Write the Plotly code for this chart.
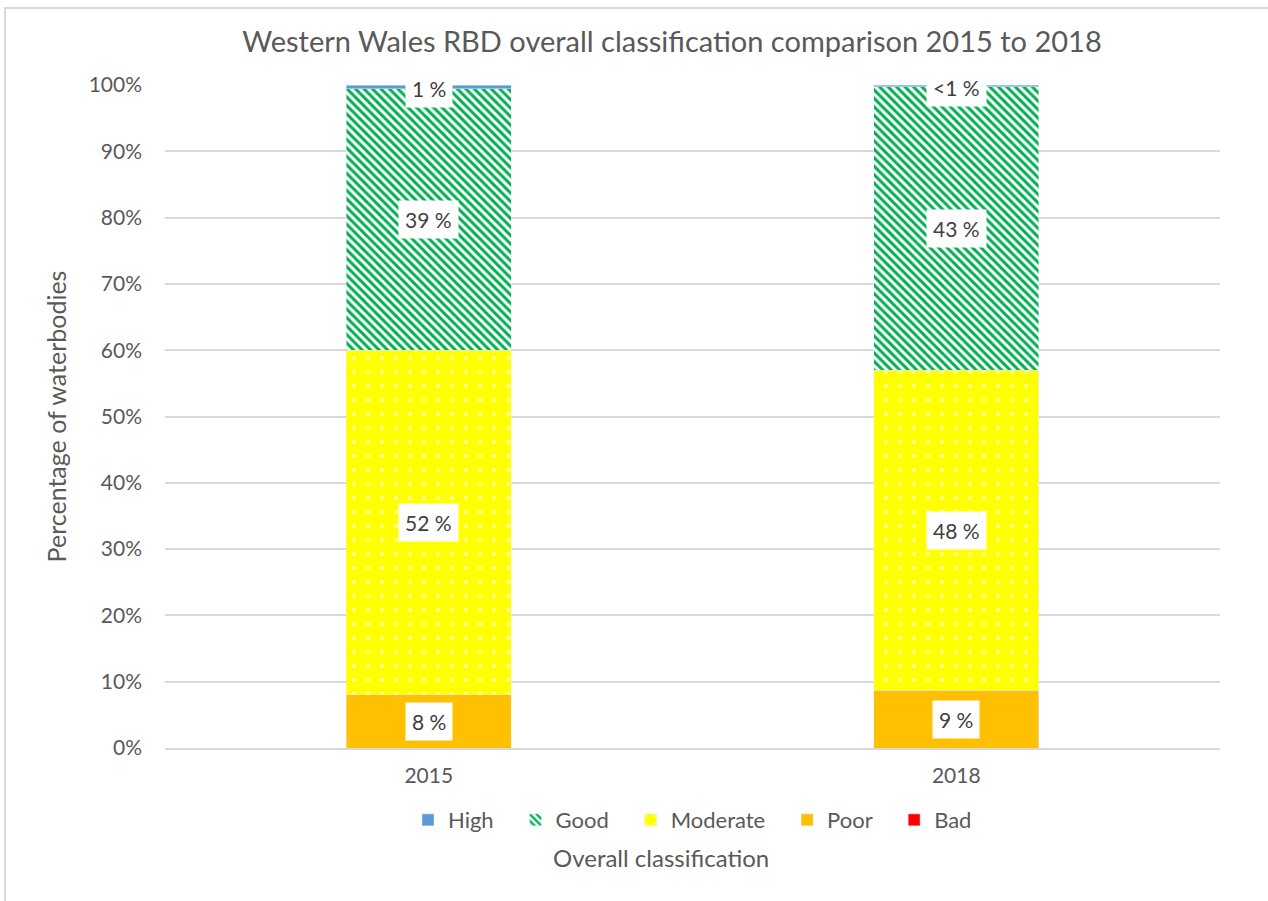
import plotly.graph_objects as go

years = ["2015", "2018"]
classes = ["High", "Good", "Moderate", "Poor", "Bad"]
high = [0.6, 0.3]
good = [39.4, 42.7]
moderate = [52.0, 48.3]
poor = [8.0, 8.7]
bad = [0.0, 0.0]
labels = {
    "High": ["1 %", "<1 %"],
    "Good": ["39 %", "43 %"],
    "Moderate": ["52 %", "48 %"],
    "Poor": ["8 %", "9 %"],
}

FONT = "Lato, 'Open Sans', sans-serif"
GREY = "#595959"
PAD = "\u00a0" * 3

series = {"Bad": bad, "Poor": poor, "Moderate": moderate, "Good": good, "High": high}

fig = go.Figure()
fig.add_trace(go.Bar(x=years, y=bad, name="Bad", marker=dict(color="#FF0000"), legendrank=5))
fig.add_trace(go.Bar(x=years, y=poor, name="Poor" + PAD, marker=dict(color="#FFC000"), legendrank=4))
fig.add_trace(go.Bar(x=years, y=moderate, name="Moderate" + PAD,
                     marker=dict(color="#FFFF00",
                                 pattern=dict(shape=".", fgcolor="white", bgcolor="#FFFF00",
                                              size=14, solidity=0.08, fillmode="overlay")),
                     legendrank=3))
fig.add_trace(go.Bar(x=years, y=good, name="Good" + PAD,
                     marker=dict(color="white",
                                 pattern=dict(shape="\\", fgcolor="#00B050", bgcolor="white",
                                              size=6, solidity=0.5, fillmode="replace")),
                     legendrank=2))
fig.add_trace(go.Bar(x=years, y=high, name="High" + PAD, marker=dict(color="#5B9BD5"), legendrank=1))

order = ["Bad", "Poor", "Moderate", "Good", "High"]
for i, yr in enumerate(years):
    base = 0.0
    for name in order:
        v = series[name][i]
        if name in labels:
            mid = base + v / 2
            if name == "High":
                mid = base + v / 2 - 0.3
            fig.add_annotation(x=i, xref="x", y=mid, yref="y", text=labels[name][i],
                               showarrow=False, bgcolor="white", borderpad=6,
                               font=dict(family=FONT, size=21, color="#404040"))
        base += v

fig.update_layout(
    barmode="stack",
    bargap=0.687,
    width=1268, height=901,
    margin=dict(l=165, r=48, t=85, b=153, autoexpand=False),
    paper_bgcolor="white", plot_bgcolor="white",
    font=dict(family=FONT, color=GREY, size=20),
    title=dict(text="Western Wales RBD overall classification comparison 2015 to 2018",
               x=0.53, xanchor="center", y=0.953, yanchor="middle",
               font=dict(family=FONT, size=29, color=GREY)),
    legend=dict(orientation="h", x=0.5, xanchor="center", y=-0.077, yanchor="top",
                font=dict(family=FONT, size=22, color=GREY), traceorder="normal",
                itemwidth=30),
    showlegend=True,
)
fig.update_yaxes(range=[0, 100], dtick=10, ticksuffix="%", showgrid=True,
                 gridcolor="#D9D9D9", gridwidth=1.5, zeroline=False,
                 showline=False, ticks="", ticklabelstandoff=22, automargin=False,
                 tickfont=dict(family=FONT, size=21, color=GREY),
                 title=dict(text="Percentage of waterbodies", standoff=14,
                            font=dict(family=FONT, size=25, color=GREY)))
fig.update_xaxes(type="category", range=[-0.5, 1.5], showline=True, linecolor="#D9D9D9",
                 linewidth=1.5, ticks="", automargin=False, ticklabelstandoff=8,
                 tickfont=dict(family=FONT, size=21, color=GREY))

fig.add_annotation(text="Overall classification", xref="paper", yref="paper",
                   x=0.47, y=-0.165, showarrow=False, xanchor="center", yanchor="middle",
                   font=dict(family=FONT, size=24, color=GREY))

fig.add_shape(type="rect", xref="paper", yref="paper",
              x0=(5 - 165) / 1055, x1=1.2, y0=-0.4, y1=1 + (85 - 8) / 663,
              line=dict(color="#D9D9D9", width=2), fillcolor="rgba(0,0,0,0)", layer="below")

fig.write_html("out.html", config={"displayModeBar": False},
               post_script="document.body.style.margin='0px';")
